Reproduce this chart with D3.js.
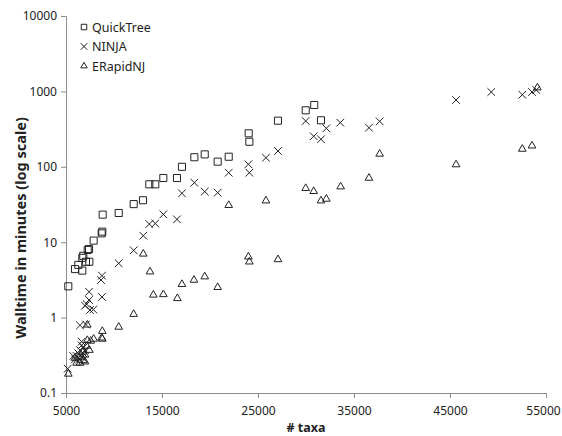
<!DOCTYPE html>
<html>
<head>
<meta charset="utf-8">
<script src="https://cdn.jsdelivr.net/npm/d3@7"></script>
<style>
  body { margin: 0; background: #fff; }
  text { font-family: "Noto Sans", "Open Sans", sans-serif; fill: #222; }
</style>
</head>
<body>
<div id="chart"></div>
<script>
// values: [taxa, minutes]
const quickTree = [
  [5240, 2.6], [5940, 4.4], [6280, 5.0], [6700, 4.2], [6700, 6.2], [6800, 6.6],
  [7080, 5.5], [7430, 5.5], [7260, 7.9], [7400, 8.1], [7880, 10.5], [8720, 13.1],
  [8780, 13.8], [8820, 23.2], [10490, 24.4], [12050, 32], [13020, 36], [13680, 58.6],
  [14300, 58.6], [15140, 71], [16560, 71], [17080, 100], [18370, 134], [19450, 146],
  [20800, 117], [21950, 136], [24030, 278], [24100, 215], [27080, 409], [29970, 561],
  [30860, 660], [31560, 414]
];
const ninja = [
  [5180, 0.21], [5760, 0.31], [5940, 0.28], [6110, 0.31], [6280, 0.336], [6390, 0.28],
  [6460, 0.37], [6630, 0.48], [6630, 0.43], [6630, 0.30], [6800, 0.40], [6800, 0.336],
  [6980, 0.37], [6460, 0.79], [7080, 0.81], [6980, 1.44], [7150, 1.51], [7400, 1.71],
  [7400, 2.2], [7500, 1.26], [7850, 1.28], [8750, 1.88], [8650, 3.15], [8750, 3.6],
  [10490, 5.25], [12050, 7.8], [13050, 12.2], [13680, 17.4], [14300, 17.7], [15140, 23.4],
  [16560, 20.1], [17080, 44.5], [18370, 61.6], [19450, 46.8], [20800, 45.4], [21950, 83.5],
  [24000, 108], [24100, 83.5], [25830, 132], [27080, 162], [29970, 405], [30800, 254],
  [31560, 232], [32120, 324], [33570, 385], [36560, 330], [37670, 401], [45630, 769],
  [49300, 982], [52530, 904], [53540, 982], [53990, 1044]
];
const eRapidNJ = [
  [5240, 0.179], [5940, 0.29], [6110, 0.25], [6460, 0.25], [6630, 0.30], [6730, 0.35],
  [6800, 0.27], [6980, 0.32], [6980, 0.26], [7150, 0.42], [7430, 0.37], [7220, 0.50],
  [7570, 0.49], [7220, 0.8], [7880, 0.52], [8720, 0.54], [8780, 0.52], [8780, 0.66],
  [10490, 0.75], [12050, 1.11], [13050, 7.0], [13750, 4.06], [14100, 2.0], [15140, 2.03],
  [16600, 1.8], [17080, 2.77], [18330, 3.15], [19450, 3.49], [20800, 2.52], [21950, 30.9],
  [24000, 6.4], [24100, 5.5], [25830, 35.5], [27080, 5.9], [29970, 51.9], [30800, 47.3],
  [31560, 35.5], [32120, 37.4], [33610, 54.5], [36560, 71], [37670, 148], [45630, 107],
  [52530, 172], [53540, 190], [54100, 1120]
];
const xTicks = [5000, 15000, 25000, 35000, 45000, 55000];
const yTicks = [0.1, 1, 10, 100, 1000, 10000];
const seriesNames = ["QuickTree", "NINJA", "ERapidNJ"];

const width = 562, height = 436;
const margin = { top: 16, right: 16, bottom: 43, left: 66 };

const svg = d3.select('#chart').append('svg')
  .attr('width', width)
  .attr('height', height);

const x = d3.scaleLinear()
  .domain([5000, 55000])
  .range([margin.left, width - margin.right]);
const y = d3.scaleLog()
  .domain([0.1, 10000])
  .range([height - margin.bottom, margin.top]);

const xAxis = svg.append('g')
  .attr('transform', `translate(0,${height - margin.bottom})`)
  .call(d3.axisBottom(x).tickValues(xTicks).tickFormat(d3.format('d')).tickSizeOuter(0).tickSize(5).tickPadding(8));
const yAxis = svg.append('g')
  .attr('transform', `translate(${margin.left},0)`)
  .call(d3.axisLeft(y).tickValues(yTicks).tickFormat(d => String(d)).tickSizeOuter(0).tickSize(5).tickPadding(4));

[xAxis, yAxis].forEach(g => {
  g.select('.domain').attr('stroke', '#8c8c8c');
  g.selectAll('.tick line').attr('stroke', '#8c8c8c');
  g.selectAll('.tick text')
    .style('font-size', '12px')
    .style('font-family', '"Noto Sans", sans-serif')
    .attr('fill', '#222');
});
// last x label sits right at the edge, nudge it in a bit
xAxis.selectAll('.tick text').filter(d => d === 55000).attr('dx', -3);

svg.append('text')
  .attr('x', (margin.left + width - margin.right) / 2)
  .attr('y', 432)
  .attr('text-anchor', 'middle')
  .style('font-size', '12.5px')
  .style('font-weight', 'bold')
  .text('# taxa');

svg.append('text')
  .attr('transform', 'translate(26,228) rotate(-90)')
  .attr('text-anchor', 'middle')
  .style('font-size', '14.5px')
  .style('font-weight', 'bold')
  .text('Walltime in minutes (log scale)');

// marker shapes
const square = d3.symbol().type(d3.symbolSquare).size(50);
const cross = d3.symbol().type(d3.symbolX).size(40);
const tri = d3.symbol().type(d3.symbolTriangle2).size(42);
const shapes = [square, cross, tri];

function plot(data, sym) {
  svg.append('g').selectAll('path')
    .data(data)
    .enter()
    .append('path')
    .attr('transform', d => `translate(${x(d[0])},${y(d[1])})`)
    .attr('d', sym)
    .attr('fill', 'none')
    .attr('stroke', '#222')
    .attr('stroke-width', 1);
}
plot(eRapidNJ, tri);
plot(ninja, cross);
plot(quickTree, square);

// legend
const legend = svg.append('g').attr('transform', 'translate(84,27)');
seriesNames.forEach((name, i) => {
  const row = legend.append('g').attr('transform', `translate(0,${i * 19.5})`);
  row.append('path')
    .attr('d', d3.symbol().type([d3.symbolSquare, d3.symbolX, d3.symbolTriangle2][i]).size(30)())
    .attr('fill', 'none')
    .attr('stroke', '#222');
  row.append('text')
    .attr('x', 8)
    .attr('y', 4.5)
    .style('font-size', '12.5px')
    .text(name);
});
</script>
</body>
</html>
